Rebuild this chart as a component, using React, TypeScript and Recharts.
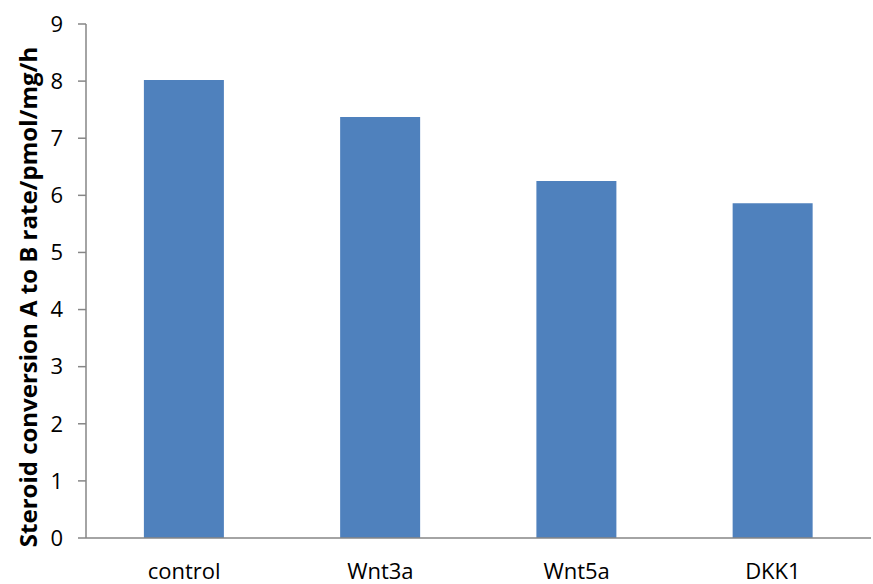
import React from 'react';
import { BarChart, Bar, XAxis, YAxis } from 'recharts';

const categories = ['control', 'Wnt3a', 'Wnt5a', 'DKK1'];
const rates = [8.02, 7.37, 6.25, 5.86];
const yTicks = [0, 1, 2, 3, 4, 5, 6, 7, 8, 9];
const yTitle = 'Steroid conversion A to B rate/pmol/mg/h';

const data = categories.map((name, i) => ({ name, rate: rates[i] }));

const FONT = '"Open Sans", sans-serif';
const AXIS = '#868686';

const YTitle = (props: any) => {
  const vb = props.viewBox || { x: 0, y: 0, width: 0, height: 0 };
  const cx = 27;
  const cy = vb.y + vb.height / 2 + 16;
  return (
    <text
      x={cx}
      y={cy}
      transform={`rotate(-90, ${cx}, ${cy})`}
      textAnchor="middle"
      dominantBaseline="central"
      fontFamily={FONT}
      fontWeight="bold"
      fontSize={24}
      fill="#000"
    >
      {yTitle}
    </text>
  );
};

export default function App() {
  return (
    <div style={{ position: 'absolute', left: 0, top: 0, background: '#fff' }}>
      <BarChart
        width={873}
        height={584}
        data={data}
        margin={{ top: 24, right: 2, left: 0, bottom: 0 }}
        barCategoryGap="29.5%"
      >
        <XAxis
          dataKey="name"
          height={46}
          tickLine={false}
          tickSize={0}
          tickMargin={25}
          axisLine={{ stroke: AXIS, strokeWidth: 1.5 }}
          tick={{ fill: '#000', fontSize: 22, fontFamily: FONT }}
        />
        <YAxis
          width={86}
          domain={[0, 9]}
          ticks={yTicks}
          interval={0}
          tickSize={8}
          tickMargin={15}
          axisLine={{ stroke: AXIS, strokeWidth: 1.5 }}
          tickLine={{ stroke: AXIS, strokeWidth: 1.5 }}
          tick={{ fill: '#000', fontSize: 22, fontFamily: FONT }}
          label={<YTitle />}
        />
        <Bar dataKey="rate" fill="#4F81BD" isAnimationActive={false} />
      </BarChart>
    </div>
  );
}
